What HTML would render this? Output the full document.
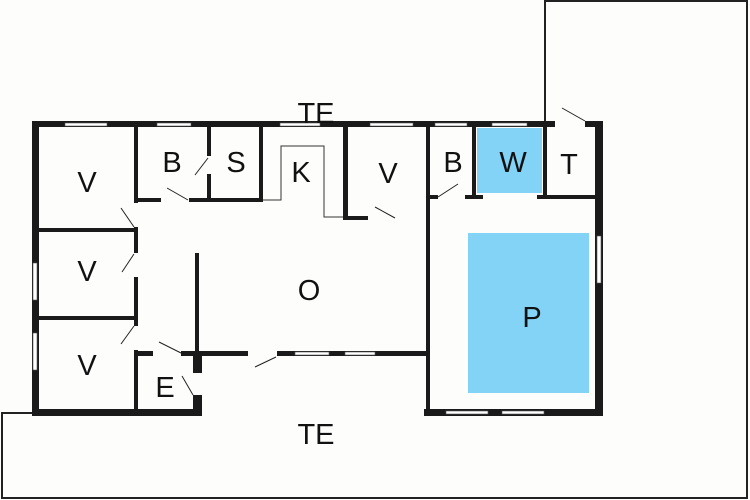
<!DOCTYPE html>
<html><head><style>html,body{margin:0;padding:0;background:#fdfdfb}svg{display:block}</style></head>
<body>
<svg width="750" height="500" viewBox="0 0 750 500" xmlns="http://www.w3.org/2000/svg">
<rect width="750" height="500" fill="#fdfdfb"/>
<!-- exterior outlines -->
<g fill="none" stroke="#222" stroke-width="2">
<polyline points="545,0 545,121"/>
<polyline points="545,1 747,1 747,498 2,498 2,413 33,413"/>
</g>
<!-- blue -->
<rect x="477" y="128" width="65" height="65" fill="#82d3f5"/>
<rect x="468" y="233" width="121" height="160" fill="#82d3f5"/>
<!-- K thin outline -->
<polyline points="262,200 281,200 281,146 324,146 324,217 343,217" fill="none" stroke="#333" stroke-width="1"/>
<g fill="#1a1a1a">
<!-- outer walls -->
<rect x="32" y="121" width="571" height="6"/>
<rect x="32" y="121" width="7" height="295"/>
<rect x="32" y="409" width="170" height="7"/>
<rect x="424" y="409" width="179" height="7"/>
<rect x="595" y="121" width="8" height="295"/>
<!-- left inner vertical -->
<rect x="134" y="127" width="4" height="289"/>
<rect x="39" y="228" width="97" height="4"/>
<rect x="39" y="316" width="97" height="4"/>
<!-- B S -->
<rect x="134" y="198" width="129" height="4"/>
<rect x="207" y="127" width="4" height="75"/>
<rect x="259" y="127" width="4" height="75"/>
<!-- V right -->
<rect x="343" y="127" width="5" height="93"/>
<rect x="343" y="216" width="25" height="4"/>
<!-- pool section left wall -->
<rect x="426" y="127" width="4" height="289"/>
<rect x="472" y="127" width="4" height="70"/>
<rect x="465" y="195" width="18" height="4"/>
<rect x="543" y="127" width="4" height="70"/>
<rect x="537" y="195" width="58" height="4"/>
<rect x="430" y="195" width="8" height="4"/>
<!-- bottom internal -->
<rect x="134" y="351" width="114" height="5"/>
<rect x="195" y="253" width="4" height="103"/>
<rect x="193" y="351" width="9" height="65"/>
<rect x="277" y="351" width="150" height="5"/>
</g>
<!-- windows (white with thin outline) -->
<g fill="#fff" stroke="#555" stroke-width="0.6">
<rect x="65" y="123" width="42" height="3"/>
<rect x="157" y="123" width="34" height="3"/>
<rect x="280" y="123" width="40" height="3"/>
<rect x="370" y="123" width="43" height="3"/>
<rect x="435" y="123" width="32" height="3"/>
<rect x="492" y="123" width="35" height="3"/>
<rect x="33" y="263" width="4" height="37"/>
<rect x="33" y="333" width="4" height="37"/>
<rect x="446" y="411" width="42" height="3"/>
<rect x="502" y="411" width="42" height="3"/>
<rect x="597" y="236" width="4" height="47"/>
<rect x="295" y="352" width="34" height="3"/>
<rect x="345" y="352" width="30" height="3"/>
</g>
<!-- door gaps -->
<g fill="#fdfdfb">
<rect x="555" y="120" width="30" height="8"/>
<rect x="161" y="197" width="28" height="6"/>
<rect x="206" y="156" width="6" height="18"/>
<rect x="133" y="203" width="6" height="24"/>
<rect x="133" y="253" width="6" height="24"/>
<rect x="133" y="326" width="6" height="24"/>
<rect x="153" y="350" width="28" height="7"/>
<rect x="192" y="373" width="11" height="22"/>
<rect x="248" y="350" width="29" height="7"/>
<rect x="368" y="215" width="26" height="6"/>
<rect x="438" y="194" width="25" height="6"/>
</g>
<!-- door swings -->
<g stroke="#222" stroke-width="1">
<line x1="562" y1="108" x2="585" y2="121"/>
<line x1="167" y1="188" x2="188" y2="200"/>
<line x1="195" y1="175" x2="208" y2="158"/>
<line x1="121" y1="208" x2="134" y2="227"/>
<line x1="122" y1="272" x2="134" y2="254"/>
<line x1="121" y1="344" x2="134" y2="326"/>
<line x1="159" y1="342" x2="181" y2="353"/>
<line x1="182" y1="376" x2="193" y2="395"/>
<line x1="255" y1="367" x2="276" y2="357"/>
<line x1="375" y1="207" x2="395" y2="218"/>
<line x1="438" y1="197" x2="458" y2="184"/>
</g>
<g font-family="Liberation Sans, sans-serif" font-size="29" fill="#111" text-anchor="middle">
<text x="87" y="192">V</text>
<text x="87" y="281">V</text>
<text x="87" y="375">V</text>
<text x="172" y="172">B</text>
<text x="236" y="172">S</text>
<text x="301" y="182">K</text>
<text x="388" y="183">V</text>
<text x="453" y="172">B</text>
<text x="513" y="172">W</text>
<text x="569" y="174">T</text>
<text x="309" y="300">O</text>
<text x="532" y="327">P</text>
<text x="165" y="397">E</text>
<text x="316" y="123">TE</text>
<text x="316" y="444">TE</text>
</g>
</svg>
</body></html>
